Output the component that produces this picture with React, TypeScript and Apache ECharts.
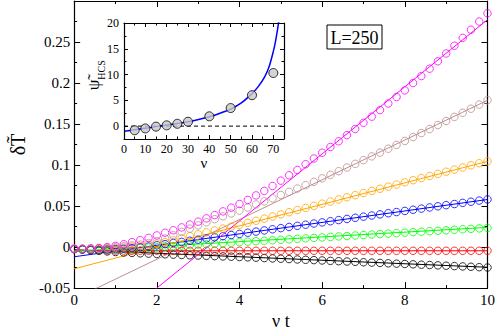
import React, { useEffect, useRef } from "react";
import * as echarts from "echarts";

const SERIF = "Liberation Serif";

// time grid (ν t)
const T = [0, 0.2, 0.4, 0.6, 0.8, 1, 1.2, 1.4, 1.6, 1.8, 2, 2.2, 2.4, 2.6, 2.8, 3, 3.2, 3.4, 3.6, 3.8, 4, 4.2, 4.4, 4.6, 4.8, 5, 5.2, 5.4, 5.6, 5.8, 6, 6.2, 6.4, 6.6, 6.8, 7, 7.2, 7.4, 7.6, 7.8, 8, 8.2, 8.4, 8.6, 8.8, 9, 9.2, 9.4, 9.6, 9.8, 10];

const magentaPts = [-0.002, -0.002, -0.0015, -0.001, 0.0, 0.0015, 0.0035, 0.006, 0.0085, 0.0112, 0.0142, 0.0175, 0.0205, 0.024, 0.0275, 0.031, 0.035, 0.039, 0.0435, 0.048, 0.0525, 0.0575, 0.063, 0.0685, 0.0745, 0.081, 0.0875, 0.094, 0.101, 0.108, 0.115, 0.122, 0.129, 0.1365, 0.144, 0.1515, 0.159, 0.167, 0.175, 0.183, 0.191, 0.2, 0.2085, 0.2175, 0.2265, 0.236, 0.2455, 0.255, 0.265, 0.275, 0.285];
const brownPts = [-0.002, -0.002, -0.002, -0.0015, -0.001, 0.0, 0.001, 0.002, 0.003, 0.0048, 0.0072, 0.0105, 0.0145, 0.0185, 0.0225, 0.0265, 0.0302, 0.034, 0.0375, 0.041, 0.0445, 0.0482, 0.052, 0.0557, 0.0595, 0.0635, 0.0674, 0.0714, 0.0755, 0.0796, 0.0838, 0.0881, 0.0925, 0.097, 0.1015, 0.106, 0.1106, 0.1152, 0.1199, 0.1246, 0.1294, 0.1342, 0.139, 0.1439, 0.1488, 0.1537, 0.1587, 0.1637, 0.1687, 0.1738, 0.179];
const orangePts = [-0.002, -0.002, -0.0022, -0.002, -0.0018, -0.0012, -0.0005, 0.0005, 0.0015, 0.0028, 0.0042, 0.006, 0.0082, 0.0108, 0.0133, 0.0157, 0.018, 0.0203, 0.0226, 0.0249, 0.0272, 0.0296, 0.0321, 0.0347, 0.0373, 0.0399, 0.0425, 0.0451, 0.0477, 0.0503, 0.0529, 0.0555, 0.0581, 0.0607, 0.0633, 0.0659, 0.0685, 0.0711, 0.0737, 0.0763, 0.0789, 0.0815, 0.0841, 0.0867, 0.0893, 0.0919, 0.0945, 0.0971, 0.0997, 0.1022, 0.1046];
const bluePts = [-0.0025, -0.0027, -0.003, -0.003, -0.0028, -0.0025, -0.002, -0.0012, -0.0003, 0.0008, 0.0022, 0.0036, 0.005, 0.0063, 0.0077, 0.0091, 0.0105, 0.0119, 0.0133, 0.0147, 0.0161, 0.0175, 0.0189, 0.0203, 0.0217, 0.0231, 0.0245, 0.0259, 0.0273, 0.0287, 0.0301, 0.0315, 0.0329, 0.0343, 0.0357, 0.0371, 0.0385, 0.0399, 0.0413, 0.0427, 0.0441, 0.0455, 0.0469, 0.0483, 0.0497, 0.0511, 0.0525, 0.0539, 0.0553, 0.0567, 0.0581];
const greenPts = [-0.0025, -0.003, -0.0032, -0.0032, -0.003, -0.0027, -0.0023, -0.0018, -0.0012, -0.0006, 0.0, 0.0006, 0.0012, 0.0018, 0.0024, 0.003, 0.0036, 0.0042, 0.0048, 0.0054, 0.006, 0.0066, 0.0072, 0.0077, 0.0083, 0.0089, 0.0095, 0.0101, 0.0106, 0.0112, 0.0118, 0.0124, 0.013, 0.0135, 0.0141, 0.0147, 0.0153, 0.0159, 0.0164, 0.017, 0.0176, 0.0182, 0.0188, 0.0193, 0.0199, 0.0205, 0.0211, 0.0217, 0.0222, 0.0228, 0.0234];
const redPts = [-0.0025, -0.003, -0.0035, -0.0038, -0.004, -0.0042, -0.0043, -0.0043, -0.0044, -0.0044, -0.0044, -0.0045, -0.0045, -0.0045, -0.0045, -0.0045, -0.0045, -0.0045, -0.0045, -0.0045, -0.0045, -0.0045, -0.0045, -0.0045, -0.0045, -0.0045, -0.0045, -0.0045, -0.0045, -0.0045, -0.0045, -0.0045, -0.0045, -0.0045, -0.0045, -0.0045, -0.0045, -0.0045, -0.0045, -0.0045, -0.0045, -0.0045, -0.0045, -0.0045, -0.0045, -0.0045, -0.0045, -0.0045, -0.0045, -0.0045, -0.0045];
const blackPts = [-0.0025, -0.003, -0.0038, -0.0046, -0.0053, -0.006, -0.0066, -0.0071, -0.0076, -0.008, -0.0084, -0.0088, -0.0092, -0.0096, -0.01, -0.0103, -0.0107, -0.011, -0.0114, -0.0117, -0.0121, -0.0125, -0.0129, -0.0134, -0.0138, -0.0142, -0.0146, -0.0151, -0.0155, -0.0159, -0.0163, -0.0168, -0.0172, -0.0176, -0.018, -0.0185, -0.0189, -0.0193, -0.0198, -0.0202, -0.0206, -0.021, -0.0215, -0.0219, -0.0223, -0.0227, -0.0232, -0.0236, -0.024, -0.0245, -0.0249];

// linear fits, evaluated at ν t = 0 and 10
const fitT = [0, 10];
const fitMagenta = [-0.1318, 0.2772];
const fitBrown = [-0.0633, 0.179];
const fitOrange = [-0.0265, 0.1045];
const fitBlue = [-0.0118, 0.058];
const fitGreen = [-0.005, 0.024];
const fitRed = [-0.0045, -0.0045];
const fitBlack = [-0.0032, -0.0246];

// inset
const nuPts = [5, 10, 15, 20, 25, 30, 40, 50, 60, 70];
const psiPts = [-0.8, -0.45, -0.1, 0.15, 0.45, 0.85, 1.9, 3.5, 6.0, 10.3];
const nuCurve = [0, 5, 10, 15, 20, 25, 30, 35, 40, 45, 50, 55, 60, 63, 66, 68, 70, 71, 72, 72.6];
const psiCurve = [-1.0, -0.7, -0.4, -0.1, 0.2, 0.5, 0.85, 1.3, 1.8, 2.5, 3.3, 4.5, 6.3, 7.7, 9.6, 11.5, 14.5, 16.4, 18.8, 20.5];
const zeroLineNu = [0, 75];
const zeroLinePsi = [0, 0];

const mainTicksY = { min: -0.05, max: 0.3, interval: 0.05 };
const mainTicksX = { min: 0, max: 10, interval: 2 };

const groups = [
  { color: "#000000", pts: blackPts, fit: fitBlack },
  { color: "#ff0000", pts: redPts, fit: fitRed },
  { color: "#00ff00", pts: greenPts, fit: fitGreen },
  { color: "#0000ff", pts: bluePts, fit: fitBlue },
  { color: "#ffa500", pts: orangePts, fit: fitOrange },
  { color: "#bc8f8f", pts: brownPts, fit: fitBrown },
  { color: "#ff00ff", pts: magentaPts, fit: fitMagenta },
];

const blackLine = { show: true, onZero: false, lineStyle: { color: "#000", width: 1.2 } };
const noLine = { show: false, onZero: false };

function fmt(v: number) {
  return String(Number(v.toFixed(3)));
}

export default function App() {
  const ref = useRef<HTMLDivElement>(null);
  useEffect(() => {
    if (!ref.current) return;
    const chart = echarts.init(ref.current, undefined, { renderer: "svg" });

    const series: any[] = [];
    groups.forEach((g) => {
      series.push({
        type: "line",
        xAxisIndex: 0,
        yAxisIndex: 0,
        data: fitT.map((t, i) => [t, g.fit[i]]),
        showSymbol: false,
        symbol: "none",
        clip: true,
        lineStyle: { color: g.color, width: 1 },
        z: 2,
      });
      series.push({
        type: "scatter",
        xAxisIndex: 0,
        yAxisIndex: 0,
        data: T.map((t, i) => [t, g.pts[i]]),
        symbol: "circle",
        symbolSize: 7.5,
        itemStyle: { color: "rgba(0,0,0,0)", borderColor: g.color, borderWidth: 1 },
        clip: true,
        z: 3,
      });
    });

    // inset series
    series.push({
      type: "line",
      xAxisIndex: 2,
      yAxisIndex: 2,
      data: zeroLineNu.map((n, i) => [n, zeroLinePsi[i]]),
      symbol: "none",
      lineStyle: { color: "#000", width: 1, type: [4, 3] },
      z: 14,
    });
    series.push({
      type: "line",
      xAxisIndex: 2,
      yAxisIndex: 2,
      data: nuCurve.map((n, i) => [n, psiCurve[i]]),
      symbol: "none",
      smooth: 0.3,
      clip: true,
      lineStyle: { color: "#0000ff", width: 1.5 },
      z: 15,
    });
    series.push({
      type: "scatter",
      xAxisIndex: 2,
      yAxisIndex: 2,
      data: nuPts.map((n, i) => [n, psiPts[i]]),
      symbol: "circle",
      symbolSize: 9,
      itemStyle: { color: "#c8c8c8", borderColor: "#000", borderWidth: 1 },
      z: 16,
    });

    const lbl = { color: "#000", fontFamily: SERIF };

    const option: any = {
      animation: false,
      backgroundColor: "#fff",
      textStyle: { fontFamily: SERIF },
      grid: [
        { left: 58, right: 8, top: 1, bottom: 32 },
        { left: 124, top: 23, width: 160, height: 116 },
      ],
      xAxis: [
        {
          type: "value", gridIndex: 0, position: "bottom", ...mainTicksX,
          axisLine: blackLine,
          axisTick: { inside: true, length: 6, lineStyle: { color: "#000" } },
          minorTick: { show: true, splitNumber: 2, length: 3, lineStyle: { color: "#000" } },
          axisLabel: { ...lbl, fontSize: 15, margin: 4, formatter: fmt },
          splitLine: { show: false },
          name: "ν t", nameLocation: "middle", nameGap: 16,
          nameTextStyle: { ...lbl, fontSize: 18 },
        },
        {
          type: "value", gridIndex: 0, position: "top", ...mainTicksX,
          axisLine: blackLine,
          axisTick: { inside: true, length: 6, lineStyle: { color: "#000" } },
          minorTick: { show: true, splitNumber: 2, length: 3, lineStyle: { color: "#000" } },
          axisLabel: { show: false },
          splitLine: { show: false },
        },
        {
          type: "value", gridIndex: 1, position: "bottom", min: 0, max: 75, interval: 10, z: 20,
          axisLine: blackLine,
          axisTick: { inside: true, length: 4, lineStyle: { color: "#000" } },
          axisLabel: { ...lbl, fontSize: 12, margin: 4, formatter: (v: number) => (v === 75 ? "" : fmt(v)) },
          splitLine: { show: false },
          name: "ν", nameLocation: "middle", nameGap: 14,
          nameTextStyle: { ...lbl, fontSize: 15 },
        },
        {
          type: "value", gridIndex: 1, position: "bottom", min: 0, max: 75, interval: 5, z: 20,
          axisLine: noLine,
          axisTick: { inside: true, length: 2.5, lineStyle: { color: "#000" } },
          axisLabel: { show: false },
          splitLine: { show: false },
        },
        {
          type: "value", gridIndex: 1, position: "top", min: 0, max: 75, interval: 10, z: 20,
          axisLine: blackLine,
          axisTick: { inside: true, length: 4, lineStyle: { color: "#000" } },
          axisLabel: { show: false },
          splitLine: { show: false },
        },
        {
          type: "value", gridIndex: 1, position: "top", min: 0, max: 75, interval: 5, z: 20,
          axisLine: noLine,
          axisTick: { inside: true, length: 2.5, lineStyle: { color: "#000" } },
          axisLabel: { show: false },
          splitLine: { show: false },
        },
      ],
      yAxis: [
        {
          type: "value", gridIndex: 0, position: "left", ...mainTicksY,
          axisLine: blackLine,
          axisTick: { inside: true, length: 6, lineStyle: { color: "#000" } },
          minorTick: { show: true, splitNumber: 2, length: 3, lineStyle: { color: "#000" } },
          axisLabel: { ...lbl, fontSize: 15, margin: 4, formatter: (v: number) => (Math.abs(v - 0.3) < 1e-9 ? "" : fmt(v)) },
          splitLine: { show: false },
          name: "δT\u0303", nameLocation: "middle", nameGap: 38, nameRotate: 90,
          nameTextStyle: { ...lbl, fontSize: 20 },
        },
        {
          type: "value", gridIndex: 0, position: "right", ...mainTicksY,
          axisLine: blackLine,
          axisTick: { inside: true, length: 6, lineStyle: { color: "#000" } },
          minorTick: { show: true, splitNumber: 2, length: 3, lineStyle: { color: "#000" } },
          axisLabel: { show: false },
          splitLine: { show: false },
        },
        {
          type: "value", gridIndex: 1, position: "left", min: -2.5, max: 20, interval: 2.5, z: 20,
          axisLine: blackLine,
          axisTick: { inside: true, length: 4, customValues: [0, 5, 10, 15, 20], lineStyle: { color: "#000" } },
          axisLabel: { ...lbl, fontSize: 12, margin: 5, customValues: [0, 5, 10, 15, 20], formatter: fmt },
          splitLine: { show: false },
        },
        {
          type: "value", gridIndex: 1, position: "left", min: -2.5, max: 20, interval: 2.5, z: 20,
          axisLine: noLine,
          axisTick: { inside: true, length: 2.5, lineStyle: { color: "#000" } },
          axisLabel: { show: false },
          splitLine: { show: false },
        },
        {
          type: "value", gridIndex: 1, position: "right", min: -2.5, max: 20, interval: 2.5, z: 20,
          axisLine: blackLine,
          axisTick: { inside: true, length: 4, customValues: [0, 5, 10, 15, 20], lineStyle: { color: "#000" } },
          axisLabel: { show: false },
          splitLine: { show: false },
        },
        {
          type: "value", gridIndex: 1, position: "right", min: -2.5, max: 20, interval: 2.5, z: 20,
          axisLine: noLine,
          axisTick: { inside: true, length: 2.5, lineStyle: { color: "#000" } },
          axisLabel: { show: false },
          splitLine: { show: false },
        },
      ],
      graphic: {
        elements: [
          { type: "rect", z: 10, shape: { x: 124, y: 23, width: 160, height: 116 }, style: { fill: "#fff" } },
          { type: "rect", z: 10, shape: { x: 327, y: 25, width: 55, height: 24 }, style: { fill: "#fff", stroke: "#000", lineWidth: 1 } },
          { type: "text", z: 11, x: 354.5, y: 37.5, style: { text: "L=250", fontFamily: SERIF, fontSize: 18, fill: "#000", align: "center", verticalAlign: "middle" } },
          { type: "text", z: 21, x: 93, y: 85, rotation: Math.PI / 2, style: { text: "ψ\u0303", fontFamily: SERIF, fontSize: 17, fill: "#000", align: "center", verticalAlign: "middle" } },
          { type: "text", z: 21, x: 101, y: 70, rotation: Math.PI / 2, style: { text: "HCS", fontFamily: SERIF, fontSize: 10, fill: "#000", align: "center", verticalAlign: "middle" } },
        ],
      },
      series,
    };
    chart.setOption(option);
    return () => chart.dispose();
  }, []);
  return <div ref={ref} style={{ width: 498, height: 335, position: "absolute", left: 0, top: 0 }} />;
}
